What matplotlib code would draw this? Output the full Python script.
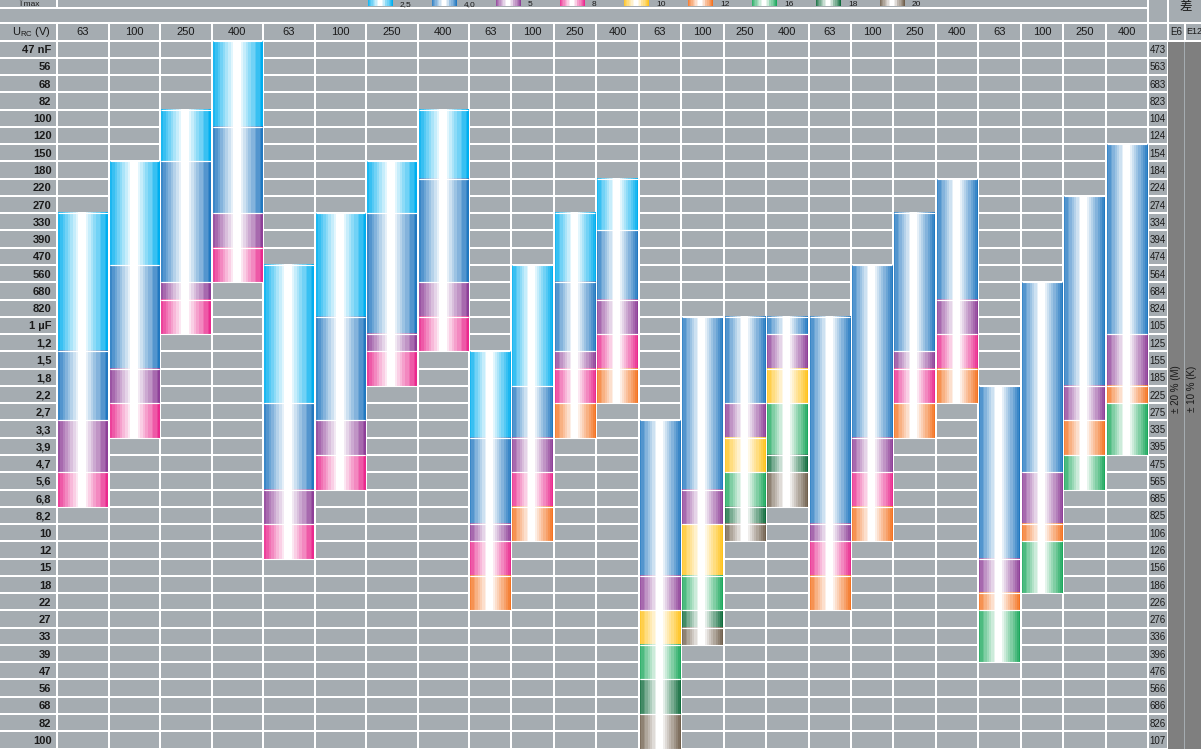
import numpy as np
import matplotlib
matplotlib.use("Agg")
import matplotlib.pyplot as plt
from matplotlib.colors import to_rgb

# ---------------- data ----------------
rows = ["47 nF", "56", "68", "82", "100", "120", "150", "180", "220", "270", "330", "390",
        "470", "560", "680", "820", "1 µF", "1,2", "1,5", "1,8", "2,2", "2,7", "3,3", "3,9",
        "4,7", "5,6", "6,8", "8,2", "10", "12", "15", "18", "22", "27", "33", "39", "47",
        "56", "68", "82", "100"]
codes = ["473", "563", "683", "823", "104", "124", "154", "184", "224", "274", "334", "394",
         "474", "564", "684", "824", "105", "125", "155", "185", "225", "275", "335", "395",
         "475", "565", "685", "825", "106", "126", "156", "186", "226", "276", "336", "396",
         "476", "566", "686", "826", "107"]
voltages = ["63", "100", "250", "400"] * 6
legend_labels = ["2,5", "4,0", "5", "8", "10", "12", "16", "18", "20"]
tolerances = ["± 20 % (M)", "± 10 % (K)"]
series_names = ["E6", "E12"]

# segments: column index, first row, last row (inclusive), current class (legend index)
seg_col = [0, 0, 0, 0,
           1, 1, 1, 1,
           2, 2, 2, 2,
           3, 3, 3, 3,
           4, 4, 4, 4,
           5, 5, 5, 5,
           6, 6, 6, 6,
           7, 7, 7, 7,
           8, 8, 8, 8, 8,
           9, 9, 9, 9, 9,
           10, 10, 10, 10, 10,
           11, 11, 11, 11, 11,
           12, 12, 12, 12, 12, 12,
           13, 13, 13, 13, 13, 13,
           14, 14, 14, 14, 14, 14,
           15, 15, 15, 15, 15, 15,
           16, 16, 16, 16,
           17, 17, 17, 17,
           18, 18, 18, 18,
           19, 19, 19, 19,
           20, 20, 20, 20,
           21, 21, 21, 21,
           22, 22, 22, 22,
           23, 23, 23, 23]
seg_first = [10, 18, 22, 25,
             7, 13, 19, 21,
             4, 7, 14, 15,
             0, 5, 10, 12,
             13, 21, 26, 28,
             10, 16, 22, 24,
             7, 10, 17, 18,
             4, 8, 14, 16,
             18, 23, 28, 29, 31,
             13, 20, 23, 25, 27,
             10, 14, 18, 19, 21,
             8, 11, 15, 17, 19,
             22, 31, 33, 35, 37, 39,
             16, 26, 28, 31, 33, 34,
             16, 21, 23, 25, 27, 28,
             16, 17, 19, 21, 24, 25,
             16, 28, 29, 31,
             13, 23, 25, 27,
             10, 18, 19, 21,
             8, 15, 17, 19,
             20, 30, 32, 33,
             14, 25, 28, 29,
             9, 20, 22, 24,
             6, 17, 20, 21]
seg_last = [17, 21, 24, 26,
            12, 18, 20, 22,
            6, 13, 14, 16,
            4, 9, 11, 13,
            20, 25, 27, 29,
            15, 21, 23, 25,
            9, 16, 17, 19,
            7, 13, 15, 17,
            22, 27, 28, 30, 32,
            19, 22, 24, 26, 28,
            13, 17, 18, 20, 22,
            10, 14, 16, 18, 20,
            30, 32, 34, 36, 38, 40,
            25, 27, 30, 32, 33, 34,
            20, 22, 24, 26, 27, 28,
            16, 18, 20, 23, 24, 26,
            27, 28, 30, 32,
            22, 24, 26, 28,
            17, 18, 20, 22,
            14, 16, 18, 20,
            29, 31, 32, 35,
            24, 27, 28, 31,
            19, 21, 23, 25,
            16, 19, 20, 23]
seg_class = [0, 1, 2, 3,
             0, 1, 2, 3,
             0, 1, 2, 3,
             0, 1, 2, 3,
             0, 1, 2, 3,
             0, 1, 2, 3,
             0, 1, 2, 3,
             0, 1, 2, 3,
             0, 1, 2, 3, 5,
             0, 1, 2, 3, 5,
             0, 1, 2, 3, 5,
             0, 1, 2, 3, 5,
             1, 2, 4, 6, 7, 8,
             1, 2, 4, 6, 7, 8,
             1, 2, 4, 6, 7, 8,
             1, 2, 4, 6, 7, 8,
             1, 2, 3, 5,
             1, 2, 3, 5,
             1, 2, 3, 5,
             1, 2, 3, 5,
             1, 2, 5, 6,
             1, 2, 5, 6,
             1, 2, 5, 6,
             1, 2, 5, 6]

# ---------------- style ----------------
class_colors = ["#00AEEF", "#2278C0", "#8E3F98", "#EA2A8E", "#FFC21A",
                "#F47321", "#1BA85C", "#0E6B3B", "#6F5F4C"]
GRAY = "#A5ACB1"
DARK = "#7F7F7F"
TXT = "#1a1a1a"
FONT = ["Liberation Sans", "DejaVu Sans"]
plt.rcParams["font.family"] = FONT

W, H = 1201, 749
col_w = [51.5] * 8 + [42.44] * 16
edges = np.concatenate([[0], np.cumsum(col_w)])
X0 = 57.0
Y0 = 40.5
ROWH = 17.27
nrows = len(rows)
Y1 = Y0 + nrows * ROWH


def grad(color, n=30):
    x = (np.arange(n) + 0.5) / n
    d = np.abs(x - 0.48) / 0.52
    t = np.clip((d - 0.1) / 0.9, 0, 1)
    t = np.round(t * 9) / 9
    rgb = np.array(to_rgb(color))
    img = 1 - t[:, None] * (1 - rgb[None, :])
    return img[None, :, :]


fig = plt.figure(figsize=(W / 100, H / 100), dpi=100)
fig.patch.set_facecolor(GRAY)

# background / frame axes in pixel units
bg = fig.add_axes([0, 0, 1, 1])
bg.axis("off")

lw = 1.45
bg.hlines(7.5, 0, 1147.5, color="white", lw=lw)
bg.vlines(57, 0, 7.5, color="white", lw=lw)
bg.hlines(22.5, 0, W, color="white", lw=lw)
bg.vlines([1147.5, 1167.5], 0, H, color="white", lw=lw)
bg.vlines(X0 + edges, 22.5, Y0, color="white", lw=lw)
bg.vlines([57, 1184.5], 22.5, Y0, color="white", lw=lw)
bg.vlines(57, Y0, H, color="white", lw=lw)
yb = Y0 + np.arange(nrows + 1) * ROWH
bg.hlines(yb, 0, 1167.5, color="white", lw=lw)
bg.hlines(Y0, 1167.5, W, color="white", lw=lw)

# header texts
bg.text(29, 6.5, "Î max", ha="center", va="baseline", fontsize=6, color=TXT)
for i, lab in enumerate(legend_labels):
    xs = 368 + 64 * i
    bg.imshow(grad(class_colors[i]), extent=[xs, xs + 25, 6.5, -6], aspect="auto",
              interpolation="nearest", zorder=3)
    bg.text(xs + 32, 6.3, lab, ha="left", va="baseline", fontsize=6, color=TXT)
bg.text(1186, 7, "差", ha="center", va="center", fontsize=9, color=TXT,
        family=["Noto Sans CJK SC", "DejaVu Sans"])
bg.text(31, 32, r"U$_{\mathregular{RC}}$ (V)", ha="center", va="center", fontsize=8, color=TXT)
bg.text(1176, 32, series_names[0], ha="center", va="center", fontsize=7, color=TXT)
bg.text(1186, 32, series_names[1], ha="left", va="center", fontsize=6.5, color=TXT)
bg.set_xlim(0, W)
bg.set_ylim(H, 0)

# tolerance columns (E6 / E12) as their own axes
for j, (xa, xb) in enumerate([(1168.3, 1183.8), (1185.3, 1201.0)]):
    ea = fig.add_axes([xa / W, 0, (xb - xa) / W, (H - Y0 - 1) / H])
    ea.set_facecolor(DARK)
    ea.set_xticks([])
    ea.set_yticks([])
    for s in ea.spines.values():
        s.set_visible(False)
    ea.set_xlim(0, 1)
    ea.set_ylim(H, Y0 + 1)
    ea.text(0.5 if j == 0 else 0.45, 389, tolerances[j], ha="center", va="center",
            rotation=90, fontsize=7, color=TXT)

# main chart axes
ax = fig.add_axes([X0 / W, (H - Y1) / H, edges[-1] / W, (Y1 - Y0) / H])
ax.set_facecolor(GRAY)
for s in ax.spines.values():
    s.set_visible(False)
ax.hlines(np.arange(nrows + 1), 0, edges[-1], color="white", lw=lw, zorder=1)
ax.vlines(edges, 0, nrows, color="white", lw=lw, zorder=1)

for c, f, l, k in zip(seg_col, seg_first, seg_last, seg_class):
    xa = edges[c] + 1.0
    xb = edges[c + 1] - 1.0
    ax.imshow(grad(class_colors[k]), extent=[xa, xb, l + 1, f], aspect="auto",
              interpolation="nearest", zorder=2)
    ax.hlines([f, l + 1], xa, xb, color="white", lw=0.8, zorder=3)
ax.set_xlim(0, edges[-1])
ax.set_ylim(nrows, 0)

centers = (edges[:-1] + edges[1:]) / 2
ax.xaxis.tick_top()
ax.set_xticks(centers)
ax.set_xticklabels(voltages, fontsize=8, color=TXT)
ax.set_yticks(np.arange(nrows) + 0.5)
ax.set_yticklabels(rows, fontsize=8, fontweight="bold", color=TXT)
ax.tick_params(axis="both", length=0)
ax.tick_params(axis="x", pad=2.5)
ax.tick_params(axis="y", pad=4)

ax2 = ax.twinx()
ax2.set_ylim(nrows, 0)
ax2.set_yticks(np.arange(nrows) + 0.5)
ax2.set_yticklabels(codes, fontsize=7, color=TXT)
ax2.tick_params(axis="y", length=0, pad=1)
for s in ax2.spines.values():
    s.set_visible(False)

fig.savefig("out.png", dpi=100, facecolor=GRAY)
